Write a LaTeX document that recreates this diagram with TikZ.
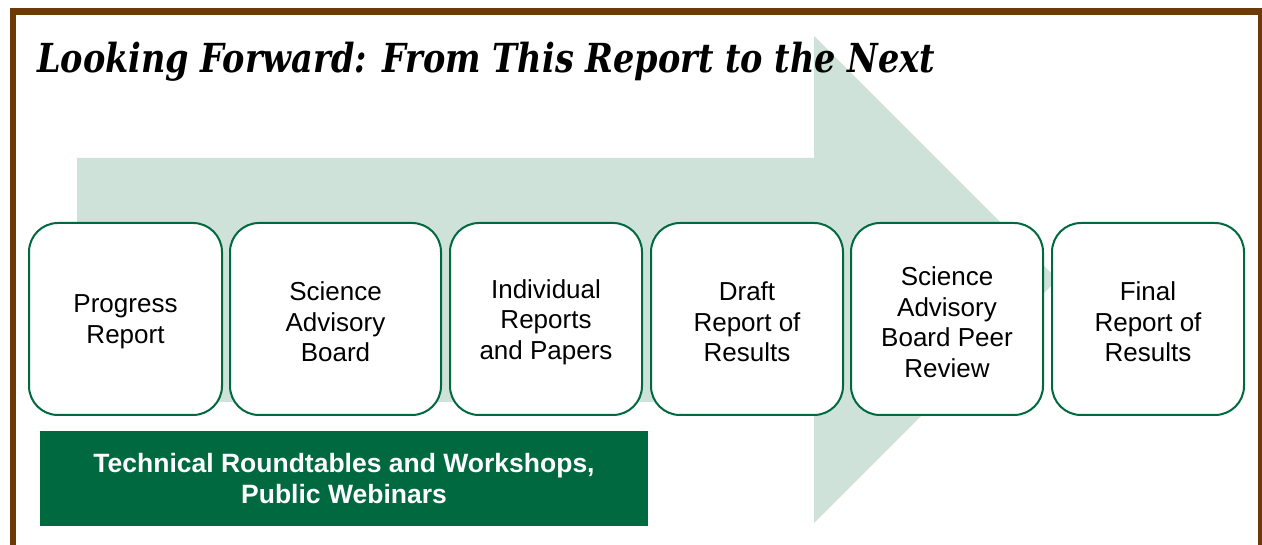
\documentclass[tikz,border=0pt]{standalone}
\usepackage{fontspec}
\usepackage{graphicx}
\setmainfont{Liberation Sans}
\newfontfamily\titlefont{DejaVu Serif}
\definecolor{framebrown}{RGB}{107,58,6}
\definecolor{arrowgreen}{RGB}{207,226,217}
\definecolor{darkgreen}{RGB}{0,105,64}
\tikzset{
  stagebox/.style={draw=darkgreen, line width=2pt, fill=white, rounded corners=29pt,
    minimum height=192pt, inner sep=0pt},
  stagetext/.style={align=center, inner sep=0pt, yshift=-3pt,
    font=\fontsize{26}{30.5}\selectfont},
  bandbox/.style={fill=darkgreen, draw=none, minimum width=608pt, minimum height=94pt,
    align=center, text=white, font=\fontsize{26.5}{31}\selectfont\bfseries},
}
\begin{document}
\begin{tikzpicture}[x=1pt,y=-1pt]
\useasboundingbox (0,0) rectangle (1262,545);
\clip (0,0) rectangle (1262,545);
\fill[white] (0,0) rectangle (1262,545);
% frame
\draw[framebrown, line width=6.5pt] (1261,580) -- (13,580) -- (13,11.5) -- (1261,11.5) -- cycle;
% big arrow
\fill[arrowgreen] (77,158) -- (814,158) -- (814,36) -- (1057.5,279.5) -- (814,523) -- (814,402) -- (77,402) -- cycle;
% title
\node[anchor=base west, inner sep=0pt] (title) at (37,73)
  {\resizebox{898pt}{\height}{\titlefont\bfseries\itshape\fontsize{40}{48}\selectfont Looking Forward: From This Report to the Next}};
% stages
\node[stagebox, minimum width=193pt] (s1) at (125.5,319) {};
\node[stagebox, minimum width=211pt] (s2) at (335.5,319) {};
\node[stagebox, minimum width=192pt] (s3) at (546,319) {};
\node[stagebox, minimum width=192pt] (s4) at (747,319) {};
\node[stagebox, minimum width=192pt] (s5) at (947,319) {};
\node[stagebox, minimum width=192pt] (s6) at (1148,319) {};
\node[stagetext] (t1) at (s1.center) {Progress\\Report};
\node[stagetext] (t2) at (s2.center) {Science\\Advisory\\Board};
\node[stagetext] (t3) at (s3.center) {Individual\\Reports\\and Papers};
\node[stagetext] (t4) at (s4.center) {Draft\\Report of\\Results};
\node[stagetext] (t5) at (s5.center) {Science\\Advisory\\Board Peer\\Review};
\node[stagetext] (t6) at (s6.center) {Final\\Report of\\Results};
% band
\node[bandbox] (band) at (344,478.5) {Technical Roundtables and Workshops,\\Public Webinars};
\end{tikzpicture}
\end{document}
